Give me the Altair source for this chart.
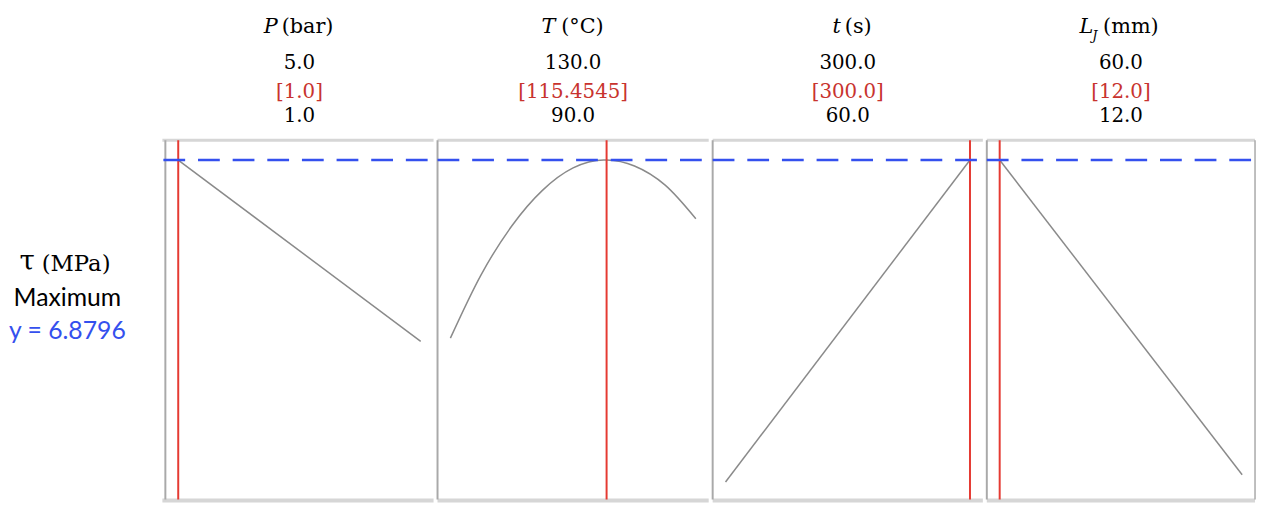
import altair as alt
import pandas as pd

# ---------------- data ----------------
factor_symbols = ["P", "T", "t", "L"]
factor_subs = ["", "", "", "J"]
factor_units = ["(bar)", "(°C)", "(s)", "(mm)"]
high_labels = ["5.0", "130.0", "300.0", "60.0"]
opt_labels = ["[1.0]", "[115.4545]", "[300.0]", "[12.0]"]
low_labels = ["1.0", "90.0", "60.0", "12.0"]
factor_low = [1.0, 90.0, 60.0, 12.0]
factor_high = [5.0, 130.0, 300.0, 60.0]
optimal = [1.0, 115.4545, 300.0, 12.0]

P_x = [1.0, 5.0]
P_y = [6.8796, 4.13]
T_x = [90, 95, 100, 105, 110, 115, 115.4545, 120, 125, 130]
T_y = [4.18, 5.14, 5.88, 6.42, 6.76, 6.88, 6.8796, 6.79, 6.50, 5.99]
ts_x = [60, 300]
ts_y = [2.00, 6.8796]
L_x = [12, 60]
L_y = [6.8796, 2.11]
curves_x = [P_x, T_x, ts_x, L_x]
curves_y = [P_y, T_y, ts_y, L_y]

y_best = 6.8796
response_symbol = "τ"
response_unit = "(MPa)"
goal_label = "Maximum"
y_label = "y = 6.8796"

# ---------------- layout / style ----------------
PANEL_W = [271, 274, 273, 271]
H = 363
LEFT_W = 154
Y_DOMAIN = [1.735, 7.18]
SYM_RIGHT = [-22, -18, -7, -28]   # offset from panel centre
UNIT_LEFT = [-18, -12, -3, -18]
RED = "#e53a32"
RED_TXT = "#c8332e"
BLUE = "#3450ee"
CURVE = "#8a8a8a"
FRAME = "#a9a9a9"
FRAME_LIGHT = "#d6d6d6"
SERIF = "DejaVu Serif"
SANS = "Lato"

yscale = alt.Scale(domain=Y_DOMAIN, nice=False, zero=False)


def panel(i):
    w = PANEL_W[i]
    mid = w / 2
    xscale = alt.Scale(domain=[factor_low[i], factor_high[i]], padding=13, nice=False, zero=False)
    X = alt.X("x:Q", scale=xscale, axis=None)
    Y = alt.Y("y:Q", scale=yscale, axis=None)
    curve_df = pd.DataFrame({"x": curves_x[i], "y": curves_y[i]})
    opt_df = pd.DataFrame({"x": [optimal[i]]})
    best_df = pd.DataFrame({"y": [y_best]})
    hdr = pd.DataFrame({
        "sym": [factor_symbols[i]], "sub": [factor_subs[i]], "unit": [factor_units[i]],
        "hi": [high_labels[i]], "opt": [opt_labels[i]], "lo": [low_labels[i]],
    })

    top = alt.Chart(hdr).mark_rule(color=FRAME_LIGHT, strokeWidth=3).encode(
        x=alt.value(-3 if i == 0 else 0), x2=alt.value(w), y=alt.value(0))
    bottom = alt.Chart(hdr).mark_rule(color=FRAME_LIGHT, strokeWidth=4).encode(
        x=alt.value(-3 if i == 0 else 0), x2=alt.value(w), y=alt.value(H + 1))
    left = alt.Chart(hdr).mark_rule(color=FRAME, strokeWidth=2).encode(
        x=alt.value(0), y=alt.value(0), y2=alt.value(H))
    layers = [top, bottom, left]
    if i == len(PANEL_W) - 1:
        layers.append(alt.Chart(hdr).mark_rule(color=FRAME, strokeWidth=1.5).encode(
            x=alt.value(w), y=alt.value(0), y2=alt.value(H)))

    line = alt.Chart(curve_df).mark_line(color=CURVE, strokeWidth=1.5, interpolate="monotone").encode(x=X, y=Y)
    red = alt.Chart(opt_df).mark_rule(color=RED, strokeWidth=2).encode(x=X)
    blue = alt.Chart(best_df).mark_rule(color=BLUE, strokeWidth=2.5, strokeDash=[22, 13]).encode(
        y=Y, x=alt.value(-2 if i == 0 else 0), x2=alt.value(w))

    sym = alt.Chart(hdr).mark_text(font=SERIF, fontSize=21, fontStyle="italic", align="right",
                                   baseline="middle", color="black").encode(
        text="sym:N", x=alt.value(mid + SYM_RIGHT[i]), y=alt.value(-114))
    unit = alt.Chart(hdr).mark_text(font=SERIF, fontSize=21, align="left",
                                    baseline="middle", color="black").encode(
        text="unit:N", x=alt.value(mid + UNIT_LEFT[i]), y=alt.value(-114))
    sub = alt.Chart(hdr).mark_text(font=SERIF, fontSize=13, fontStyle="italic", align="left",
                                   baseline="middle", color="black").encode(
        text="sub:N", x=alt.value(mid + SYM_RIGHT[i] - 1), y=alt.value(-105))
    hi = alt.Chart(hdr).mark_text(font=SERIF, fontSize=20, baseline="middle", color="black").encode(
        text="hi:N", x=alt.value(mid), y=alt.value(-78))
    opt = alt.Chart(hdr).mark_text(font=SERIF, fontSize=20, baseline="middle", color=RED_TXT).encode(
        text="opt:N", x=alt.value(mid), y=alt.value(-49))
    lo = alt.Chart(hdr).mark_text(font=SERIF, fontSize=20, baseline="middle", color="black").encode(
        text="lo:N", x=alt.value(mid), y=alt.value(-24))

    layers += [line, red, blue, sym, unit, sub, hi, opt, lo]
    return alt.layer(*layers).properties(width=w, height=H)


lab = pd.DataFrame({"sym": [response_symbol], "unit": [response_unit],
                    "goal": [goal_label], "yl": [y_label]})
spacer = alt.Chart(lab).mark_rule(opacity=0).encode(
    x=alt.value(0), x2=alt.value(1), y=alt.value(-131))
tau = alt.Chart(lab).mark_text(font=SERIF, fontSize=28, align="right",
                               baseline="middle", color="black").encode(
    text="sym:N", x=alt.value(27), y=alt.value(123))
tau_unit = alt.Chart(lab).mark_text(font=SERIF, fontSize=23, align="left",
                                    baseline="middle", color="black").encode(
    text="unit:N", x=alt.value(34), y=alt.value(125))
goal = alt.Chart(lab).mark_text(font=SANS, fontSize=25, baseline="middle", color="black").encode(
    text="goal:N", x=alt.value(60), y=alt.value(160))
ylab = alt.Chart(lab).mark_text(font=SANS, fontSize=25, baseline="middle", color=BLUE).encode(
    text="yl:N", x=alt.value(60), y=alt.value(193))
left_chart = alt.layer(spacer, tau, tau_unit, goal, ylab).properties(width=LEFT_W, height=H)

chart = alt.hconcat(left_chart, *[panel(i) for i in range(4)], spacing=0).properties(
    padding=0
).configure_view(strokeWidth=0)

chart.save("out.html", embed_options={"renderer": "svg", "actions": False})
